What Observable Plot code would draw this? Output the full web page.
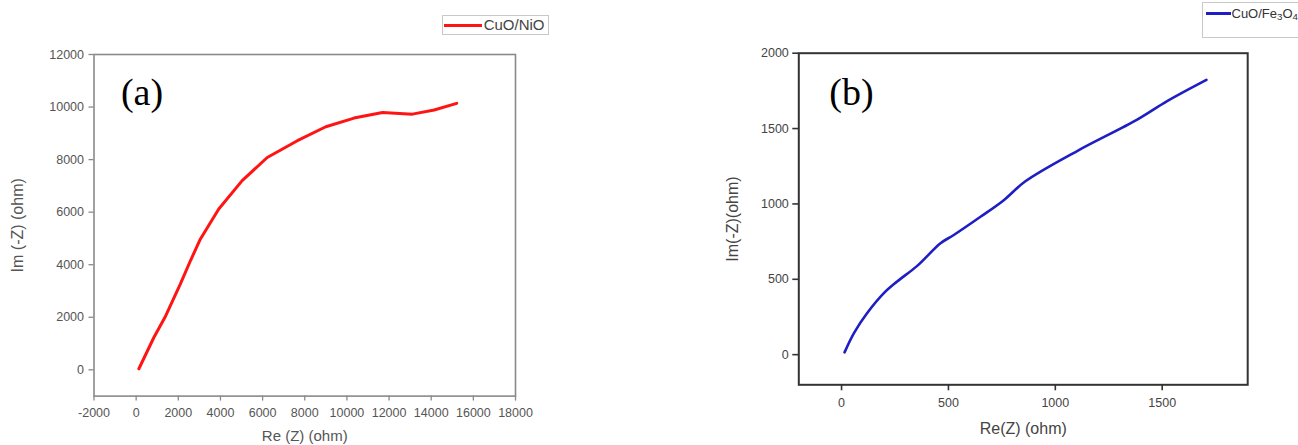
<!DOCTYPE html>
<html>
<head>
<meta charset="utf-8">
<script src="https://cdn.jsdelivr.net/npm/d3@7"></script>
<script src="https://cdn.jsdelivr.net/npm/@observablehq/plot@0.6"></script>
<style>
  html, body { margin: 0; padding: 0; background: #fff; overflow: hidden; }
  #root { position: relative; width: 1298px; height: 445px; overflow: hidden; background: #fff; }
  .panel { position: absolute; top: 0; }
  .legend { position: absolute; box-sizing: border-box; font-family: "Liberation Sans", Arial, sans-serif; }
  .legend .swatch { position: absolute; }
  .legend .lab { position: absolute; white-space: nowrap; }
</style>
</head>
<body>
<div id="root"></div>
<script>
// ---- data ----
const seriesA = "CuO/NiO";
const cuoNioRe = [130, 840, 1400, 2100, 2580, 3050, 3920, 5030, 6220, 7650, 9000, 10340, 11690, 13110, 14140, 15210];
const cuoNioIm = [40, 1230, 2050, 3270, 4160, 4980, 6120, 7200, 8080, 8720, 9250, 9580, 9790, 9730, 9890, 10140];

const seriesB = "CuO/Fe3O4";
const cuoFeRe = [14, 58, 120, 198, 260, 354, 463, 525, 650, 759, 860, 1102, 1383, 1523, 1707];
const cuoFeIm = [15, 143, 276, 408, 485, 589, 739, 794, 915, 1025, 1150, 1351, 1559, 1682, 1823];

const xTicksA = [-2000, 0, 2000, 4000, 6000, 8000, 10000, 12000, 14000, 16000, 18000];
const yTicksA = [0, 2000, 4000, 6000, 8000, 10000, 12000];
const xTicksB = [0, 500, 1000, 1500];
const yTicksB = [0, 500, 1000, 1500, 2000];

const xTitleA = "Re (Z) (ohm)";
const yTitleA = "Im (-Z) (ohm)";
const xTitleB = "Re(Z) (ohm)";
const yTitleB = "Im(-Z)(ohm)";
const panelA = "(a)";
const panelB = "(b)";

const rowsA = cuoNioRe.map((x, i) => ({x, y: cuoNioIm[i]}));
const rowsB = cuoFeRe.map((x, i) => ({x, y: cuoFeIm[i]}));

const sans = "'Liberation Sans', Arial, Helvetica, sans-serif";
const serif = "'Liberation Serif', 'Times New Roman', serif";
const fmt = d => String(d);

const root = document.getElementById("root");

// ---- panel (a) ----
const plotA = Plot.plot({
  width: 560, height: 445,
  marginLeft: 93.5, marginRight: 45, marginTop: 54, marginBottom: 49.4,
  x: {domain: [-2000, 18000]},
  y: {domain: [-1000, 12000]},
  style: {fontFamily: sans, background: "transparent", overflow: "visible"},
  marks: [
    Plot.axisX({ticks: xTicksA, tickFormat: fmt, tickSize: 5, tickPadding: 7, fontSize: 12.5, stroke: "#8a8a8a", fill: "#555", strokeWidth: 1.3, label: null}),
    Plot.axisY({ticks: yTicksA, tickFormat: fmt, tickSize: 5, tickPadding: 5, fontSize: 12.5, stroke: "#8a8a8a", fill: "#555", strokeWidth: 1.3, label: null}),
    Plot.frame({stroke: "#8a8a8a", strokeWidth: 1.6}),
    Plot.line(rowsA, {x: "x", y: "y", stroke: "#ff1414", strokeWidth: 3, strokeLinejoin: "round", strokeLinecap: "round"}),
    Plot.text([panelA], {text: d => d, frameAnchor: "top-left", dx: 48, dy: 38, fontSize: 38, fontFamily: serif, fill: "#000", textAnchor: "middle", lineAnchor: "middle"}),
    Plot.text([xTitleA], {text: d => d, frameAnchor: "bottom", dy: 40, fontSize: 15, fill: "#555", textAnchor: "middle", lineAnchor: "middle"}),
    Plot.text([yTitleA], {text: d => d, frameAnchor: "left", dx: -76.5, rotate: -90, fontSize: 16, fill: "#555", textAnchor: "middle", lineAnchor: "middle"})
  ]
});
plotA.classList.add("panel");
plotA.style.left = "0px";
root.appendChild(plotA);

// ---- panel (b) ----
const plotB = Plot.plot({
  width: 598, height: 445,
  marginLeft: 98.3, marginRight: 50.8, marginTop: 52.7, marginBottom: 60.7,
  x: {domain: [-200, 1900]},
  y: {domain: [-200, 2000]},
  style: {fontFamily: sans, background: "transparent", overflow: "visible"},
  marks: [
    Plot.axisX({ticks: xTicksB, tickFormat: fmt, tickSize: 6, tickPadding: 7, fontSize: 12.5, stroke: "#333", fill: "#444", strokeWidth: 1.6, label: null}),
    Plot.axisY({ticks: yTicksB, tickFormat: fmt, tickSize: 6, tickPadding: 4, fontSize: 12.5, stroke: "#333", fill: "#444", strokeWidth: 1.6, label: null}),
    Plot.frame({stroke: "#333", strokeWidth: 2}),
    Plot.line(rowsB, {x: "x", y: "y", stroke: "#1e1ec4", strokeWidth: 2.6, curve: "catmull-rom", strokeLinejoin: "round", strokeLinecap: "round"}),
    Plot.text([panelB], {text: d => d, frameAnchor: "top-left", dx: 52.7, dy: 39.5, fontSize: 38, fontFamily: serif, fill: "#000", textAnchor: "middle", lineAnchor: "middle"}),
    Plot.text([xTitleB], {text: d => d, frameAnchor: "bottom", dy: 43.7, fontSize: 16, fill: "#444", textAnchor: "middle", lineAnchor: "middle"}),
    Plot.text([yTitleB], {text: d => d, frameAnchor: "left", dx: -66, rotate: -90, fontSize: 16, fill: "#444", textAnchor: "middle", lineAnchor: "middle"})
  ]
});
plotB.classList.add("panel");
plotB.style.left = "700px";
root.appendChild(plotB);

// ---- legends ----
function legend({left, top, width, height, color, lineLeft, lineWidth, lineY, lineThick, textLeft, html, fontSize, textColor}) {
  const box = document.createElement("div");
  box.className = "legend";
  Object.assign(box.style, {left: left + "px", top: top + "px", width: width + "px", height: height + "px", border: "1px solid #c8c8c8"});
  const sw = document.createElement("div");
  sw.className = "swatch";
  Object.assign(sw.style, {left: lineLeft + "px", top: (lineY - lineThick / 2) + "px", width: lineWidth + "px", height: lineThick + "px", background: color});
  const lab = document.createElement("div");
  lab.className = "lab";
  lab.innerHTML = html;
  Object.assign(lab.style, {left: textLeft + "px", top: (lineY - fontSize * 0.6) + "px", fontSize: fontSize + "px", lineHeight: (fontSize * 1.2) + "px", color: textColor});
  box.appendChild(sw);
  box.appendChild(lab);
  root.appendChild(box);
}
legend({left: 441.7, top: 15, width: 107, height: 20, color: "#ff1414", lineLeft: 1, lineWidth: 38, lineY: 9, lineThick: 3,
  textLeft: 41, html: seriesA, fontSize: 15, textColor: "#444"});
legend({left: 1202, top: 2, width: 130, height: 36, color: "#1e1ec4", lineLeft: 3, lineWidth: 25, lineY: 10.5, lineThick: 2.4,
  textLeft: 28.5, html: "CuO/Fe<sub style='font-size:0.75em;vertical-align:-0.25em'>3</sub>O<sub style='font-size:0.75em;vertical-align:-0.25em'>4</sub>", fontSize: 13, textColor: "#333"});
</script>
</body>
</html>
